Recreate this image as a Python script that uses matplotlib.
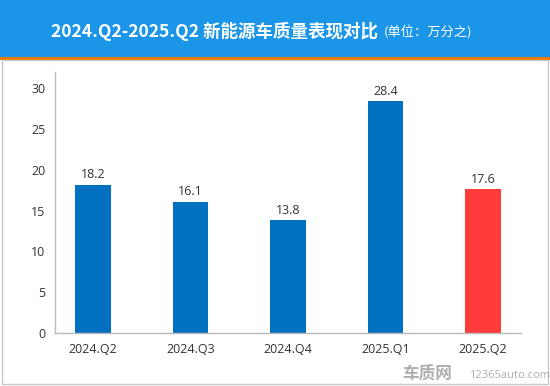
import matplotlib.pyplot as plt
from matplotlib.patches import Rectangle

plt.rcParams['font.family'] = ['Open Sans', 'Noto Sans CJK SC', 'DejaVu Sans']

quarters = ['2024.Q2', '2024.Q3', '2024.Q4', '2025.Q1', '2025.Q2']
values = [18.2, 16.1, 13.8, 28.4, 17.6]
colors = ['#0070c0', '#0070c0', '#0070c0', '#0070c0', '#ff3b3b']

fig = plt.figure(figsize=(5.5, 3.86), dpi=100)
fig.patch.set_facecolor('white')

# header band
fig.patches.append(Rectangle((0, 1 - 57 / 386), 1, 57 / 386, transform=fig.transFigure,
                             facecolor='#1a95e8', edgecolor='none', zorder=0))
fig.patches.append(Rectangle((0, 1 - 60 / 386), 1, 3 / 386, transform=fig.transFigure,
                             facecolor='#f07800', edgecolor='none', zorder=0))
# outer frame
fig.patches.append(Rectangle((1.5 / 550, 2.5 / 386), 546.5 / 550, (386 - 62) / 386,
                             transform=fig.transFigure, facecolor='none',
                             edgecolor='#c8c8c8', linewidth=1, zorder=0))

title = fig.text(51 / 550, 1 - 31 / 386, '2024.Q2-2025.Q2 新能源车质量表现对比', color='white',
                 fontsize=12.6, fontweight='bold', va='center', ha='left',
                 family=['Noto Sans CJK SC', 'DejaVu Sans'])
fig.canvas.draw()
bb = title.get_window_extent()
fig.text((bb.x1 + 6) / 550, 1 - 32 / 386, '(单位：万分之)', color='white', fontsize=9.5,
         va='center', ha='left', family=['Noto Sans CJK SC', 'DejaVu Sans'])

ax = fig.add_axes([55 / 550, 53 / 386, 466 / 550, 261 / 386])
x = range(len(quarters))
bars = ax.bar(x, values, width=0.36, color=colors, zorder=2)
for xi, v in zip(x, values):
    ax.text(xi, v + 0.4, f'{v}', ha='center', va='bottom', fontsize=9, color='#333333')

ax.set_xlim(-0.39, 4.39)
ax.set_ylim(0, 32)
ax.set_yticks([0, 5, 10, 15, 20, 25, 30])
ax.set_xticks(list(x))
ax.set_xticklabels(quarters)
ax.tick_params(length=0, labelsize=9, labelcolor='#333333')
ax.tick_params(axis='y', pad=7)
ax.tick_params(axis='x', pad=7)
for s in ['top', 'right']:
    ax.spines[s].set_visible(False)
for s in ['left', 'bottom']:
    ax.spines[s].set_color('#bbbbbb')
    ax.spines[s].set_linewidth(1)

# watermark
fig.text(0.732, 12 / 386, '车质网', color='#9a9a9a', fontsize=12, fontweight='bold',
         va='center', ha='left', family=['Noto Sans CJK SC', 'DejaVu Sans'], alpha=0.8)
fig.text(0.852, 11 / 386, '12365auto.com', color='#9a9a9a', fontsize=8,
         va='center', ha='left', alpha=0.8)

fig.savefig('out.png', dpi=100)
